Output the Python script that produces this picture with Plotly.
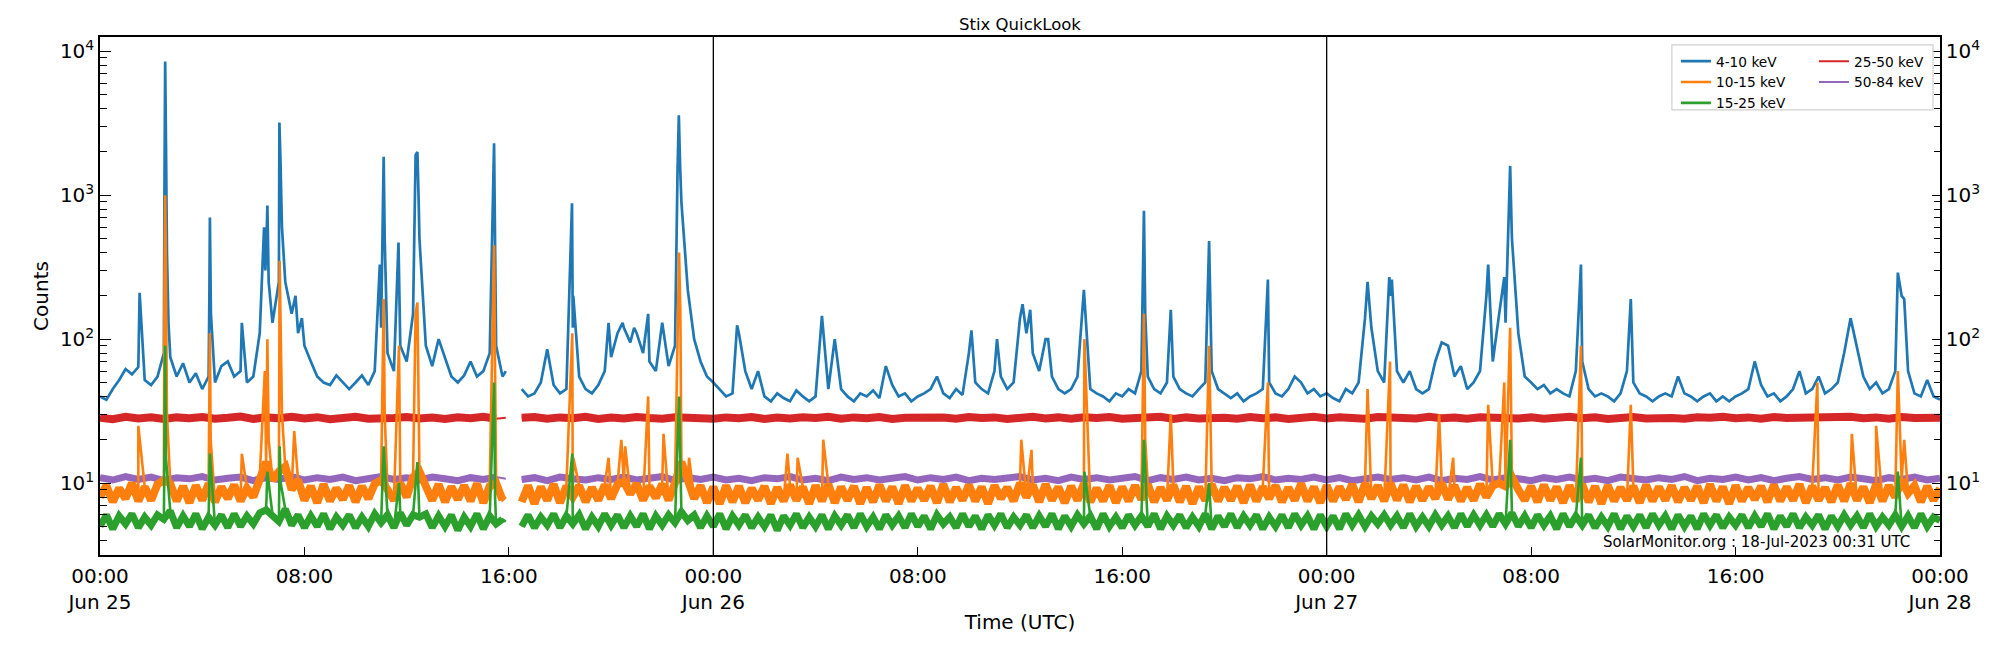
import numpy as np
import pandas as pd
import plotly.graph_objects as go

START = pd.Timestamp("2023-06-25 00:00")
fine_hours = np.arange(0, 72.0001, 0.25)    # 289 samples, 15 min cadence
coarse_hours = np.arange(0, 72.0001, 0.5)   # 145 samples, 30 min cadence
N = None

# ---------------- 4-10 keV (blue) ----------------
blue_base = [
    40, 38, 45, 52, 62, 57, 64, 52,
    48, 55, 80, 75, 55, 68, 50, 58,
    45, 55, 50, 65, 70, 55, 60, 50,
    55, 110, 400, 130, 250, 250, 150, 110,
    90, 70, 55, 50, 48, 56, 50, 45,
    50, 56, 48, 60, 120, 80, 60, 90,
    70, 150, 500, 90, 65, 100, 75, 55,
    50, 56, 70, 55, 60, 80, 90, 55,
    N, N, 45, 40, 42, 50, 85, 48,
    42, 45, 120, 55, 45, 42, 48, 60,
    75, 110, 120, 95, 110, 80, 70, 60,
    130, 65, 90, 900, 220, 100, 70, 55,
    50, 45, 40, 42, 110, 60, 45, 60,
    40, 37, 42, 39, 37, 44, 40, 37,
    40, 145, 45, 100, 45, 40, 37, 42,
    40, 44, 39, 65, 48, 40, 42, 37,
    40, 42, 45, 55, 42, 39, 45, 41,
    80, 50, 45, 42, 60, 55, 45, 50,
    140, 110, 80, 60, 100, 55, 45, 42,
    45, 55, 220, 45, 42, 40, 37, 42,
    40, 45, 42, 60, 55, 45, 42, 50,
    55, 45, 42, 40, 45, 50, 60, 45,
    42, 39, 42, 37, 40, 42, 45, 50,
    42, 40, 45, 55, 50, 42, 45, 40,
    42, 39, 37, 45, 42, 50, 140, 120,
    60, 50, 200, 60, 50, 60, 45, 42,
    45, 70, 95, 90, 55, 65, 45, 50,
    60, 200, 70, 150, 130, 500, 110, 55,
    50, 45, 48, 42, 45, 42, 40, 60,
    70, 45, 40, 42, 40, 37, 42, 60,
    50, 42, 40, 37, 40, 42, 40, 55,
    42, 40, 37, 40, 42, 37, 40, 37,
    40, 42, 45, 70, 48, 40, 42, 37,
    40, 45, 60, 42, 45, 55, 42, 45,
    50, 80, 140, 90, 55, 45, 50, 42,
    45, 60, 200, 60, 42, 40, 52, 40,
    38,
]
blue_peak_hours = [1.55, 2.52, 2.55, 2.58, 2.62, 2.68, 4.28, 4.30, 4.34, 5.55,
                   6.42, 6.47, 6.55, 6.60, 7.02, 7.06, 7.12, 7.65, 7.90, 10.95,
                   11.10, 11.14, 11.68, 11.72, 12.35, 12.42, 12.47, 15.42, 15.46, 15.88,
                   18.47, 18.52, 19.90, 20.45, 20.90, 21.45, 22.60, 22.65, 22.70, 24.93,
                   34.10, 35.10, 36.10, 36.40, 37.10, 40.85, 40.90, 41.90, 43.40, 45.70,
                   49.60, 50.45, 50.55, 54.32, 54.95, 55.18, 55.22, 57.95, 59.90, 70.35,
                   70.60]
blue_peak_counts = [210, 900, 8500, 2500, 400, 130, 200, 700, 150, 130,
                    600, 300, 850, 250, 3200, 1800, 600, 200, 140, 330,
                    1850, 500, 470, 200, 1900, 2000, 900, 2300, 500, 60,
                    880, 200, 130, 130, 120, 150, 1500, 3600, 1600, 125,
                    115, 100, 175, 160, 100, 780, 150, 160, 480, 260,
                    250, 270, 260, 330, 270, 1600, 800, 330, 190, 290,
                    190]

# ---------------- 10-15 keV (orange) ----------------
orange_base = [
    8.0, 9.6, 7.4, 9.2, 7.8, 10.0, 7.5, 9.4,
    7.6, 9.8, 10.5, 9.9, 7.5, 9.5, 7.3, 9.6,
    7.6, 9.9, 7.4, 9.4, 7.8, 9.7, 7.5, 9.2,
    8.0, 11.0, 14.0, 10.5, 12.0, 13.0, 9.0, 10.5,
    7.6, 9.5, 7.3, 9.8, 7.5, 9.2, 7.7, 9.6,
    7.4, 9.5, 7.8, 9.9, 10.5, 9.0, 7.6, 10.0,
    8.0, 11.0, 12.0, 9.5, 7.6, 9.8, 7.4, 9.4,
    7.7, 9.6, 7.5, 9.9, 7.3, 9.5, 10.0, 7.6,
    N, N, 7.4, 9.6, 7.2, 9.4, 7.6, 9.8,
    7.3, 9.5, 8.0, 9.6, 7.4, 9.3, 7.6, 9.7,
    7.8, 9.8, 10.2, 8.4, 9.9, 7.6, 9.5, 7.9,
    9.8, 7.6, 10.0, 14.0, 10.5, 7.8, 9.6, 7.3,
    9.4, 7.2, 9.6, 7.4, 9.5, 7.3, 9.2, 7.6,
    9.5, 7.2, 9.3, 7.5, 9.7, 7.6, 9.4, 7.2,
    9.6, 7.5, 9.8, 7.3, 9.4, 7.6, 9.5, 7.2,
    9.3, 7.4, 9.7, 7.5, 9.4, 7.2, 9.6, 7.5,
    9.2, 7.6, 9.5, 7.3, 9.8, 7.4, 9.3, 7.6,
    9.7, 7.5, 9.4, 7.2, 9.6, 7.8, 9.3, 7.5,
    10.0, 8.0, 9.7, 7.4, 9.8, 7.6, 9.4, 7.3,
    9.5, 7.6, 9.9, 7.4, 9.2, 7.5, 9.6, 7.3,
    9.4, 7.5, 9.6, 7.7, 9.8, 7.4, 9.3, 7.6,
    9.7, 7.4, 9.5, 7.2, 9.4, 7.6, 9.8, 7.5,
    9.3, 7.6, 9.5, 7.3, 9.7, 7.5, 9.4, 7.8,
    9.6, 7.4, 9.3, 7.6, 9.9, 7.5, 9.4, 7.3,
    9.6, 7.5, 9.4, 7.7, 9.8, 7.4, 9.9, 7.8,
    9.6, 7.5, 10.0, 7.6, 9.7, 7.4, 9.5, 7.6,
    9.4, 7.8, 10.0, 7.7, 9.6, 7.5, 9.3, 7.6,
    9.8, 8.0, 9.6, 10.0, 9.5, 11.0, 9.0, 7.6,
    9.5, 7.4, 9.7, 7.6, 9.4, 7.3, 9.6, 7.5,
    9.8, 7.4, 9.5, 7.2, 9.6, 7.5, 9.3, 7.6,
    9.5, 7.3, 9.7, 7.5, 9.4, 7.6, 9.6, 7.4,
    9.3, 7.6, 9.5, 7.3, 9.8, 7.5, 9.4, 7.2,
    9.6, 7.5, 9.3, 7.7, 9.5, 7.4, 9.7, 7.5,
    9.4, 7.6, 9.8, 7.3, 9.5, 7.6, 9.3, 7.4,
    9.7, 7.5, 9.9, 7.6, 9.4, 7.3, 9.8, 7.5,
    9.6, 8.0, 10.5, 8.5, 9.6, 7.4, 9.5, 7.6,
    9.2,
]
orange_peak_hours = [1.50, 2.52, 2.55, 2.58, 2.62, 4.30, 4.33, 5.55, 6.45, 6.55,
                     6.60, 7.03, 7.07, 7.12, 7.60, 11.10, 11.14, 11.70, 12.35, 12.42,
                     12.47, 15.42, 15.46, 15.88, 18.48, 18.52, 19.90, 20.40, 20.55, 21.45,
                     22.05, 22.62, 22.66, 22.71, 23.05, 26.90, 27.30, 28.30, 36.05, 36.45,
                     38.52, 40.85, 40.90, 41.90, 43.40, 45.70, 49.60, 50.48, 52.40, 52.95,
                     54.32, 54.95, 55.18, 55.22, 57.95, 59.90, 67.20, 68.55, 69.50, 70.35,
                     70.60]
orange_peak_counts = [25, 200, 1000, 300, 30, 110, 20, 16, 60, 100,
                      20, 350, 150, 30, 23, 190, 30, 90, 150, 180,
                      40, 450, 60, 8.0, 110, 15, 15, 20, 18, 40,
                      22, 200, 400, 150, 15, 16, 15, 20, 20, 17,
                      100, 150, 20, 30, 90, 50, 45, 70, 30, 15,
                      35, 50, 120, 30, 90, 35, 50, 22, 25, 60,
                      20]

# ---------------- 15-25 keV (green) ----------------
green_base = [
    5.0, 6.0, 4.8, 5.9, 5.2, 6.1, 4.9, 5.8,
    5.1, 6.0, 5.6, 6.4, 4.9, 5.9, 5.0, 6.1,
    4.8, 5.8, 5.1, 6.0, 4.9, 6.1, 5.0, 5.9,
    5.2, 6.2, 6.5, 6.0, 5.4, 6.6, 5.1, 6.0,
    4.9, 5.9, 5.0, 6.1, 4.8, 5.8, 5.1, 6.0,
    4.9, 5.8, 5.0, 6.1, 5.3, 6.0, 4.9, 6.2,
    5.1, 6.0, 5.8, 6.1, 4.9, 5.9, 5.0, 6.0,
    4.7, 5.8, 5.0, 6.1, 4.8, 5.9, 5.2, 5.6,
    N, N, 5.0, 6.0, 4.9, 5.8, 5.1, 6.1,
    4.9, 5.9, 5.2, 6.0, 4.8, 5.8, 5.0, 6.1,
    5.1, 6.0, 4.9, 5.9, 5.0, 6.1, 4.8, 5.9,
    5.1, 6.0, 5.3, 6.3, 5.5, 6.0, 4.9, 5.9,
    5.0, 6.1, 4.8, 5.9, 5.1, 6.0, 4.9, 5.8,
    5.0, 6.0, 4.7, 5.9, 5.1, 6.1, 4.9, 5.8,
    5.0, 6.0, 4.8, 5.9, 5.1, 6.0, 4.9, 6.1,
    5.0, 5.8, 4.8, 6.0, 5.1, 5.9, 4.9, 6.1,
    5.0, 5.9, 4.8, 6.0, 5.2, 5.8, 4.9, 6.1,
    5.0, 5.9, 4.8, 6.0, 5.1, 6.1, 4.9, 5.8,
    5.1, 6.0, 4.9, 5.9, 5.0, 6.1, 4.8, 5.9,
    5.0, 6.0, 5.2, 5.9, 4.8, 6.1, 5.0, 5.8,
    4.9, 6.0, 5.1, 5.9, 5.0, 6.1, 4.8, 5.9,
    5.1, 6.0, 4.9, 5.8, 5.0, 6.1, 4.8, 5.9,
    5.0, 6.1, 4.9, 5.9, 5.1, 6.0, 4.8, 5.8,
    5.0, 6.0, 4.9, 6.1, 5.1, 5.9, 4.8, 6.0,
    5.0, 5.9, 4.8, 6.1, 5.1, 6.0, 5.0, 5.9,
    5.2, 6.0, 5.1, 5.9, 4.9, 6.1, 5.0, 5.8,
    5.0, 6.0, 5.1, 5.9, 4.9, 6.1, 5.0, 6.0,
    5.1, 6.0, 5.0, 6.1, 5.2, 6.2, 5.0, 5.9,
    4.9, 6.0, 5.1, 5.9, 4.8, 6.1, 5.0, 5.9,
    5.1, 6.0, 4.9, 5.8, 5.0, 6.1, 4.8, 5.9,
    5.0, 6.0, 4.9, 6.1, 5.1, 5.9, 4.8, 6.0,
    5.0, 5.9, 4.8, 6.1, 5.1, 6.0, 4.9, 5.8,
    5.1, 6.0, 4.9, 5.9, 5.0, 6.1, 4.8, 5.9,
    5.0, 6.1, 4.9, 5.8, 5.1, 6.0, 4.8, 5.9,
    5.0, 6.0, 5.1, 5.9, 4.9, 6.1, 5.0, 5.8,
    5.1, 6.0, 5.0, 5.9, 4.9, 6.1, 5.0, 5.8,
    5.5,
]
green_peak_hours = [2.55, 2.58, 4.30, 6.55, 7.03, 7.07, 11.10, 11.70, 12.42, 15.42,
                    15.46, 15.88, 18.48, 22.66, 22.71, 38.52, 40.85, 43.40, 55.18, 57.95,
                    70.35]
green_peak_counts = [90, 15, 16, 12, 18, 10, 18, 10, 14, 50,
                     8, 5.4, 16, 40, 10, 12, 20, 10, 20, 15,
                     12]

# ---------------- 25-50 keV (red) ----------------
red_base = [
    28.5, 27.8, 28.9, 28.1, 28.7, 27.9, 28.6, 28.2,
    28.8, 28.0, 28.4, 29.0, 27.9, 28.6, 28.2, 28.9,
    28.1, 28.7, 27.8, 28.5, 28.9, 28.0, 28.6, 28.3,
    28.8, 28.1, 28.5, 27.9, 28.7, 28.2, 28.9, 28.0,
    N, 28.4, 28.8, 28.0, 28.6, 28.2, 28.9, 27.9,
    28.5, 28.1, 28.8, 28.3, 28.0, 28.7, 28.4, 28.9,
    28.0, 28.6, 28.2, 28.8, 27.9, 28.5, 28.1, 28.7,
    28.3, 28.9, 28.0, 28.6, 28.2, 28.8, 27.9, 28.4,
    28.7, 28.1, 28.5, 28.0, 28.8, 28.3, 28.6, 27.9,
    28.4, 28.9, 28.1, 28.6, 28.0, 28.7, 28.3, 28.8,
    28.0, 28.5, 28.2, 28.9, 27.9, 28.6, 28.1, 28.7,
    28.4, 28.0, 28.8, 28.2, 28.6, 27.9, 28.5, 28.9,
    28.1, 28.7, 28.3, 28.0, 28.8, 28.4, 28.6, 28.1,
    28.9, 28.2, 28.5, 28.0, 28.7, 28.3, 28.8, 28.1,
    28.6, 28.0, 28.4, 28.9, 28.2, 28.7, 27.9, 28.5,
    28.8, 28.1, 28.6, 28.3, 28.0, 28.7, 28.4, 28.9,
    28.2, 28.6, 28.0, 28.8, 28.3, 28.5, 28.1, 28.7,
    28.4, 28.9, 28.2, 28.6, 28.0, 28.8, 28.3, 28.6,
    28.4,
]
red_edge_hours = [15.88]
red_edge_counts = [28.4]

# ---------------- 50-84 keV (purple) ----------------
purple_base = [
    10.9, 10.5, 11.1, 10.6, 11.0, 10.4, 10.9, 10.7,
    11.1, 10.5, 10.8, 11.0, 10.4, 10.9, 10.6, 11.1,
    10.5, 10.9, 10.6, 11.0, 10.4, 10.8, 11.1, 10.6,
    10.9, 10.5, 11.0, 10.7, 10.4, 10.9, 10.6, 11.0,
    N, 10.6, 10.9, 10.4, 11.0, 10.7, 10.5, 10.9,
    10.6, 11.0, 10.5, 10.8, 11.1, 10.4, 10.9, 10.6,
    11.0, 10.5, 10.8, 10.4, 10.9, 10.7, 11.1, 10.5,
    10.8, 10.4, 11.0, 10.6, 10.9, 10.5, 10.8, 11.1,
    10.5, 10.9, 10.6, 11.0, 10.4, 10.8, 10.6, 10.9,
    11.1, 10.5, 10.8, 10.4, 11.0, 10.6, 10.9, 10.5,
    10.8, 11.1, 10.4, 10.9, 10.6, 11.0, 10.5, 10.8,
    10.4, 10.9, 10.7, 11.1, 10.5, 10.8, 10.6, 11.0,
    10.5, 10.9, 10.4, 10.8, 11.0, 10.6, 10.9, 10.5,
    11.0, 10.4, 10.8, 10.6, 11.1, 10.5, 10.9, 10.7,
    10.4, 10.9, 10.6, 11.0, 10.5, 10.8, 10.4, 11.0,
    10.7, 10.5, 10.9, 10.6, 11.1, 10.4, 10.8, 10.6,
    11.0, 10.5, 10.9, 10.4, 10.8, 11.1, 10.6, 10.9,
    10.5, 11.0, 10.7, 10.4, 10.9, 10.6, 11.0, 10.5,
    10.8,
]
purple_edge_hours = [15.88]
purple_edge_counts = [10.7]

# ---------------- axes / labels ----------------
tick_hours = [0, 8, 16, 24, 32, 40, 48, 56, 64, 72]
tick_labels = ["00:00<br>Jun 25", "08:00", "16:00", "00:00<br>Jun 26", "08:00",
               "16:00", "00:00<br>Jun 27", "08:00", "16:00", "00:00<br>Jun 28"]
day_boundary_hours = [24, 48]
y_major = [10, 100, 1000, 10000]
y_major_text = ["10<sup>1</sup>", "10<sup>2</sup>", "10<sup>3</sup>", "10<sup>4</sup>"]
y_minor = [m * 10 ** e for e in range(0, 4) for m in range(2, 10)] + [20000]

COLORS = {"blue": "#1f77b4", "orange": "#ff7f0e", "green": "#2ca02c",
          "red": "#d62728", "purple": "#9467bd"}

assert len(blue_base) == len(fine_hours)
assert len(orange_base) == len(fine_hours)
assert len(green_base) == len(fine_hours)
assert len(red_base) == len(coarse_hours)
assert len(purple_base) == len(coarse_hours)
assert len(blue_peak_hours) == len(blue_peak_counts)
assert len(orange_peak_hours) == len(orange_peak_counts)
assert len(green_peak_hours) == len(green_peak_counts)


def build(grid, base, ex_h, ex_v):
    df = pd.DataFrame({"h": list(grid) + list(ex_h),
                       "v": [np.nan if v is None else v for v in list(base) + list(ex_v)]})
    df = df.sort_values("h", kind="stable")
    t = START + pd.to_timedelta(df["h"].values, unit="h")
    return t, df["v"].values


def to_time(hours):
    return [START + pd.Timedelta(hours=h) for h in hours]


FONT = "DejaVu Sans"
fig = go.Figure()

# (name, grid, base, extra hours, extra counts, colour, band width, line width, legend)
series = [
    ("25-50 keV", coarse_hours, red_base, red_edge_hours, red_edge_counts, "red", 8, 2, "legend2"),
    ("50-84 keV", coarse_hours, purple_base, purple_edge_hours, purple_edge_counts, "purple", 7, 2, "legend2"),
    ("4-10 keV", fine_hours, blue_base, blue_peak_hours, blue_peak_counts, "blue", 0, 2.7, "legend"),
    ("10-15 keV", fine_hours, orange_base, orange_peak_hours, orange_peak_counts, "orange", 8, 2.6, "legend"),
    ("15-25 keV", fine_hours, green_base, green_peak_hours, green_peak_counts, "green", 7, 2.6, "legend"),
]
for name, grid, base, eh, ev, col, band_w, w, leg in series:
    if band_w:
        # dense background-noise band of the channel (base samples only)
        tb, vb = build(grid, base, [], [])
        fig.add_trace(go.Scatter(x=tb, y=vb, mode="lines", showlegend=False,
                                 line=dict(color=COLORS[col], width=band_w),
                                 connectgaps=False, hoverinfo="skip"))
    t, v = build(grid, base, eh, ev)
    fig.add_trace(go.Scatter(x=t, y=v, mode="lines", name=name, legend=leg,
                             line=dict(color=COLORS[col], width=w),
                             connectgaps=False, hoverinfo="skip"))

# trace registering the right-hand axis
fig.add_trace(go.Scatter(x=to_time([0]), y=[10], yaxis="y2", mode="markers",
                         marker=dict(opacity=0), showlegend=False, hoverinfo="skip"))

for h in day_boundary_hours:
    fig.add_shape(type="line", xref="x", yref="paper", x0=to_time([h])[0], x1=to_time([h])[0],
                  y0=0, y1=1, line=dict(color="black", width=1.3), layer="above")

# legend frame
fig.add_shape(type="rect", xref="paper", yref="paper", x0=0.8543, x1=0.9962, y0=0.8594, y1=0.9847,
              line=dict(color="#d0d0d0", width=1.2), fillcolor="rgba(255,255,255,0.8)", layer="above")

Y_RANGE = [0.50, 4.10]
yaxis_common = dict(type="log", range=Y_RANGE, tickmode="array", tickvals=y_major,
                    ticktext=y_major_text, ticks="inside", tickcolor="black", tickwidth=1.2,
                    showline=True, linecolor="black", linewidth=1.5, showgrid=False, zeroline=False,
                    tickfont=dict(family=FONT, size=20, color="black"))

# page body has an 8px default margin: figure is sized/offset to fit the 2000x650 window
fig.update_layout(
    width=1984, height=634,
    margin=dict(l=92, r=52, t=29, b=81),
    paper_bgcolor="white", plot_bgcolor="white",
    font=dict(family=FONT, color="black"),
    title=dict(text="Stix QuickLook", x=(1020 - 8) / 1984, xanchor="center", y=1 - 16 / 634,
               yanchor="middle", font=dict(family=FONT, size=16.5, color="black")),
    xaxis=dict(type="date", range=[START, START + pd.Timedelta(hours=72)], tickmode="array",
               tickvals=to_time(tick_hours), ticktext=tick_labels, ticks="inside", ticklen=8,
               tickwidth=1.2, tickcolor="black", showline=True, mirror=True, linecolor="black",
               linewidth=1.5, showgrid=False, zeroline=False, ticklabelstandoff=2,
               tickfont=dict(family=FONT, size=20, color="black"),
               title=dict(text="Time (UTC)", font=dict(family=FONT, size=20), standoff=2)),
    yaxis=dict(**yaxis_common, ticklen=11,
               minor=dict(tickmode="array", tickvals=y_minor, ticks="inside", ticklen=7,
                          tickcolor="black", tickwidth=1, showgrid=False),
               title=dict(text="Counts", font=dict(family=FONT, size=20), standoff=6)),
    yaxis2=dict(**yaxis_common, ticklen=8, overlaying="y", side="right", anchor="x",
                minor=dict(tickmode="array", tickvals=y_minor, ticks="inside", ticklen=6,
                           tickcolor="black", tickwidth=1, showgrid=False)),
    legend=dict(x=0.8565, y=0.983, xanchor="left", yanchor="top", bgcolor="rgba(0,0,0,0)",
                borderwidth=0, font=dict(family=FONT, size=13.7, color="black"), itemwidth=30),
    legend2=dict(x=0.9315, y=0.983, xanchor="left", yanchor="top", bgcolor="rgba(0,0,0,0)",
                 borderwidth=0, font=dict(family=FONT, size=13.7, color="black"), itemwidth=30),
    annotations=[dict(text="SolarMonitor.org : 18-Jul-2023 00:31 UTC", xref="paper", yref="paper",
                      x=0.9848, y=0.0248, xanchor="right", yanchor="middle", showarrow=False,
                      font=dict(family=FONT, size=15, color="black"))],
)

fig.write_html("out.html")
